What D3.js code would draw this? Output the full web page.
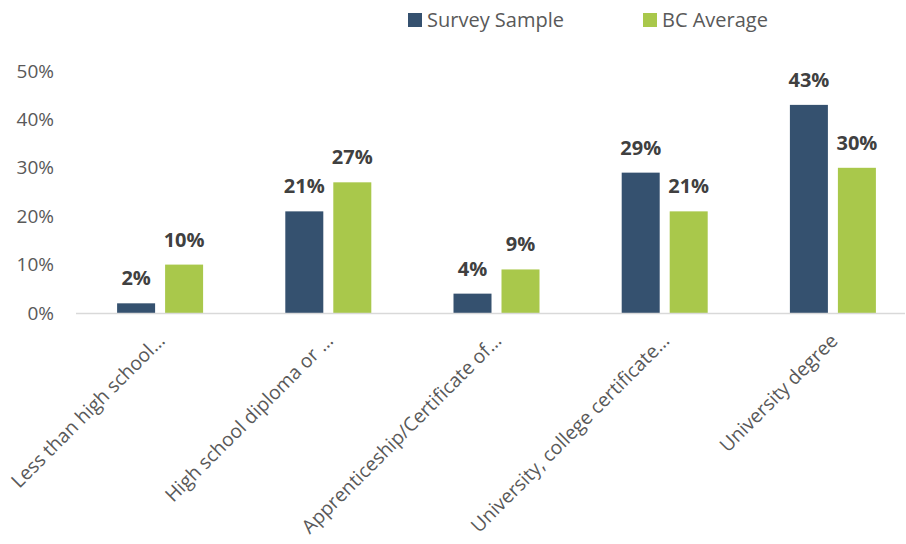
<!DOCTYPE html>
<html>
<head>
<meta charset="utf-8">
<script src="https://cdn.jsdelivr.net/npm/d3@7"></script>
<style>
  html, body { margin: 0; padding: 0; background: #fff; }
  svg { display: block; font-family: "Open Sans", sans-serif; }
</style>
</head>
<body>
<svg id="chart" width="906" height="544"></svg>
<script>
// Education level categories (labels as shown, truncated)
const categories = [
  "Less than high school…",
  "High school diploma or …",
  "Apprenticeship/Certificate of…",
  "University, college certificate…",
  "University degree"
];
const seriesNames = ["Survey Sample", "BC Average"];
const surveySample = [2, 21, 4, 29, 43];
const bcAverage = [10, 27, 9, 21, 30];
const yTicks = [0, 10, 20, 30, 40, 50];
const colors = ["#35516f", "#a9c84b"];

const svg = d3.select("#chart");
const baseY = 313, topY = 71;
const x0 = d3.scaleBand().domain(categories).range([76, 917]).paddingInner(0).paddingOuter(0);
const y = d3.scaleLinear().domain([0, 50]).range([baseY, topY]);

// Y axis tick labels (no gridlines)
const yAxis = d3.axisLeft(y).tickValues(yTicks).tickFormat(d => d + "%").tickSize(0).tickPadding(0);
const yG = svg.append("g").attr("transform", "translate(54,0)").call(yAxis);
yG.select(".domain").remove();
yG.selectAll("text").attr("fill", "#595959").style("font-size", "19px")
  .style("font-family", "'Open Sans', sans-serif");

// Bars
const barW = 38, gap = 10;
const rows = categories.map((c, i) => ({ cat: c, vals: [surveySample[i], bcAverage[i]] }));
const groups = svg.append("g").selectAll("g").data(rows).join("g")
  .attr("transform", d => `translate(${x0(d.cat) + x0.bandwidth() / 2},0)`);

const xInner = d3.scaleOrdinal().domain([0, 1]).range([-(barW + gap / 2), gap / 2]);
groups.selectAll("rect").data(d => d.vals).join("rect")
  .attr("x", (d, i) => xInner(i))
  .attr("y", d => y(d))
  .attr("width", barW)
  .attr("height", d => baseY - y(d))
  .attr("fill", (d, i) => colors[i]);

groups.selectAll("text.val").data(d => d.vals).join("text")
  .attr("class", "val")
  .attr("x", (d, i) => xInner(i) + barW / 2)
  .attr("y", d => y(d) - 18)
  .attr("text-anchor", "middle")
  .attr("fill", "#404040")
  .style("font-size", "20px")
  .style("font-weight", "bold")
  .text(d => d + "%");

// Baseline
svg.append("line")
  .attr("x1", 76).attr("x2", 905)
  .attr("y1", baseY + 0.5).attr("y2", baseY + 0.5)
  .attr("stroke", "#d9d9d9").attr("stroke-width", 1.5);

// Rotated category labels
const xAxis = d3.axisBottom(x0).tickSize(0).tickPadding(0);
const xG = svg.append("g").attr("transform", `translate(0,${baseY})`).call(xAxis);
xG.select(".domain").remove();
xG.selectAll("text")
  .attr("fill", "#595959")
  .style("font-size", "19.3px")
  .style("font-family", "'Open Sans', sans-serif")
  .attr("text-anchor", "end")
  .attr("dy", null)
  .attr("y", 0)
  .attr("transform", "translate(6,29) rotate(-45)");

// Legend
const legend = svg.append("g");
const legendX = [408, 643];
seriesNames.forEach((name, i) => {
  legend.append("rect").attr("x", legendX[i]).attr("y", 13).attr("width", 14).attr("height", 14).attr("fill", colors[i]);
  legend.append("text").attr("x", legendX[i] + 19).attr("y", 27)
    .attr("fill", "#595959").style("font-size", "20px").text(name);
});
</script>
</body>
</html>
